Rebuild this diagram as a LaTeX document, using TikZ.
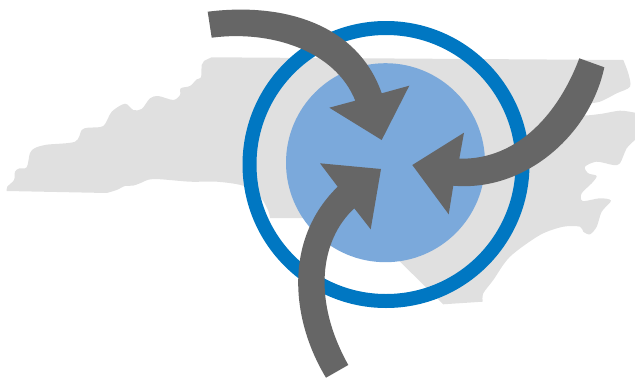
\documentclass[tikz,border=0pt]{standalone}
\usepackage{xcolor}

\definecolor{statecolor}{HTML}{E0E0E0}
\definecolor{ringcolor}{HTML}{0077C2}
\definecolor{diskcolor}{HTML}{7BA9DB}
\definecolor{arrowcolor}{HTML}{666666}

\begin{document}
\begin{tikzpicture}[
        x=1pt, y=-1pt,
        state/.style={fill=statecolor},
        disk/.style={fill=diskcolor},
        ring/.style={draw=ringcolor, line width=14pt},
        bigarrow/.style={fill=arrowcolor}
    ]
        \useasboundingbox (0,0) rectangle (635,378);

        % the state
        \fill[state] (6.7,191) -- plot[smooth, tension=0.5] coordinates {(6.7,191) (7.3,186.7) (14,180) (15,171.7) (19,168.5) (26.7,167.3) (30,153) (35,148) (46.7,144.7) (75,141.7) (81.7,130) (88,127.7) (103.3,126) (111.7,111.7) (125,103.7) (133.3,110) (141.7,109) (150,98.3) (158.3,96) (173.3,100) (180,95) (180.7,88.3) (190,86) (196.7,79.3) (201,77.3) (201.7,65) (204,61) (211.7,57.3)}
            -- (623.3,60) -- plot[smooth, tension=0.5] coordinates {(623.3,60) (628.3,73.3) (630,86.7) (616.7,93.3) (600,101.7) (583,105) (581.7,115) (600,114) (620,110.7) (635,112.7)}
            -- (635,140) -- plot[smooth, tension=0.5] coordinates {(635,140) (626.7,148.3) (620,163.3) (613.3,165) (596.7,161.7) (585,166.7) (588.3,173.3) (596.7,176) (591.7,183.3) (581.7,193.3) (582.7,201) (600,198.3) (611,200.7) (601.7,211.7) (596.7,226.7) (590,234.3) (583.3,231.7) (580,226.7) (563.3,226.7) (540,235) (510,256.7) (493.3,280) (483.3,293.3) (482.7,301.7)}
            -- (443.3,304.3) -- (400,261.7) -- (340,218) -- (270,218)
            -- plot[smooth, tension=0.5] coordinates {(270,218) (268,210) (260,196.7) (243,185.7) (216.7,181.7) (190,181.7) (153.3,179) (140,183.3) (133,185.7) (125,186) (116.7,190) (106.7,193)} -- cycle;

        \fill[disk] (385.5,162.7) circle (99.5pt);
        \draw[ring] (386,164.5) circle (136.5pt);

        % arrows
        \fill[bigarrow] (207.7,11.7) .. controls (285,2) and (358,25) .. (381.7,93.3) -- (409.3,85.7) -- (381.7,140) -- (329.3,107.7) -- (355.3,100.7) .. controls (335,50) and (270,30) .. (211.7,37.7) -- cycle;
        \fill[bigarrow] (579.3,58.3) .. controls (560,110) and (520,160) .. (459.3,158.7) -- (464,132.7) -- (412.3,165) -- (448.7,214.3) -- (453.3,185.7) .. controls (525,192) and (590,135) .. (604.3,67.3) -- cycle;
        \fill[bigarrow] (348.3,365) .. controls (312,300) and (320,240) .. (354.3,208.3) -- (370.7,229.3) -- (381,169) -- (320,163.3) -- (337.7,186.7) .. controls (283,240) and (291,320) .. (326,377.7) -- cycle;
    \end{tikzpicture}
\end{document}
